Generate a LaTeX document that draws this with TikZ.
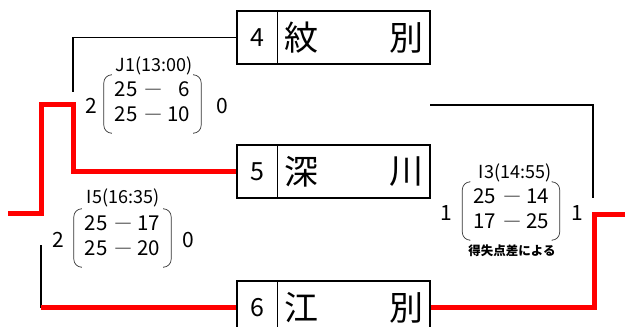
\documentclass[tikz,border=0pt]{standalone}
\usepackage{fontspec}
\setmainfont{Noto Sans CJK JP}
\usetikzlibrary{positioning}

\newcommand{\scoredash}{{\fontsize{18}{18}\selectfont ―}}

\tikzset{
	team/.style={draw, line width=1.5pt, minimum width=193pt, minimum height=53pt, inner sep=0pt},
	num/.style={inner sep=0pt, font=\fontsize{25}{25}\selectfont},
	kanji/.style={inner sep=0pt, font=\fontsize{34}{34}\selectfont},
	lose/.style={line width=1.6pt},
	win/.style={line width=5pt, red},
	sets/.style={inner sep=0pt, minimum width=97pt, minimum height=58pt, font=\fontsize{20.5}{25}\selectfont},
	pts/.style={inner sep=0pt, font=\fontsize{21}{21}\selectfont},
	game/.style={inner sep=0pt, font=\fontsize{18}{18}\selectfont},
	paren/.style={line width=0.7pt, black!80, rounded corners=8pt},
}

\begin{document}
\begin{tikzpicture}[x=1pt, y=-1pt]
	\useasboundingbox (0,0) rectangle (625,327);

	% team boxes
	\node [team] (mon) at (333.5, 37.5) {};
	\draw [line width=1.5pt] ([xshift=41pt]mon.north west) -- ([xshift=41pt]mon.south west);
	\node [num] at (257, 37.5) {4};
	\node [kanji] at (301, 37.5) {紋};
	\node [kanji] at (406, 37.5) {別};

	\node [team] (fuk) at (333.5, 171.5) {};
	\draw [line width=1.5pt] ([xshift=41pt]fuk.north west) -- ([xshift=41pt]fuk.south west);
	\node [num] at (257, 171.5) {5};
	\node [kanji] at (301, 171.5) {深};
	\node [kanji] at (406, 171.5) {川};

	\node [team] (ebe) at (333.5, 307.5) {};
	\draw [line width=1.5pt] ([xshift=41pt]ebe.north west) -- ([xshift=41pt]ebe.south west);
	\node [num] at (257, 307.5) {6};
	\node [kanji] at (301, 307.5) {江};
	\node [kanji] at (406, 307.5) {別};

	% bracket lines
	\coordinate (j1in) at (73, 92);
	\coordinate (i5in) at (41, 245);
	\coordinate (lout) at (8, 213);
	\coordinate (semi) at (430, 105);
	\coordinate (i3in) at (593, 198);
	\coordinate (i3win) at (594, 214);
	\coordinate (rout) at (625, 214);

	\draw [lose] (mon.west) -| (j1in);
	\draw [lose] (i5in) |- (ebe.west);
	\draw [lose] (semi) -| (i3in);
	\draw [win] (lout) -- (41, 213) |- (73, 104) |- (fuk.west);
	\draw [win] (i5in |- ebe.west) -- (ebe.west);
	\draw [win] (ebe.east) -| (i3win) -- (rout);

	% J1
	\node [game] (j1g) at (154, 66) {J1(13:00)};
	\node [sets] (j1) at (152.5, 104) {\begin{tabular}{@{}r@{\hspace{7pt}}c@{\hspace{5pt}}r@{}}25&\scoredash&6\\25&\scoredash&10\end{tabular}};
	\draw [paren] ([xshift=7pt]j1.north west) -- (j1.north west) -- (j1.south west) -- ([xshift=7pt]j1.south west);
	\draw [paren] ([xshift=-7pt]j1.north east) -- (j1.north east) -- (j1.south east) -- ([xshift=-7pt]j1.south east);
	\node [pts] at (91, 106) {2};
	\node [pts] at (222, 106) {0};

	% I5
	\node [game] (i5g) at (123, 198) {I5(16:35)};
	\node [sets] (i5) at (122.5, 238) {\begin{tabular}{@{}r@{\hspace{7pt}}c@{\hspace{5pt}}r@{}}25&\scoredash&17\\25&\scoredash&20\end{tabular}};
	\draw [paren] ([xshift=7pt]i5.north west) -- (i5.north west) -- (i5.south west) -- ([xshift=7pt]i5.south west);
	\draw [paren] ([xshift=-7pt]i5.north east) -- (i5.north east) -- (i5.south east) -- ([xshift=-7pt]i5.south east);
	\node [pts] at (58, 240) {2};
	\node [pts] at (188, 240) {0};

	% I3
	\node [game] (i3g) at (515, 173) {I3(14:55)};
	\node [sets] (i3) at (511, 211) {\begin{tabular}{@{}r@{\hspace{7pt}}c@{\hspace{5pt}}r@{}}25&\scoredash&14\\17&\scoredash&25\end{tabular}};
	\draw [paren] ([xshift=7pt]i3.north west) -- (i3.north west) -- (i3.south west) -- ([xshift=7pt]i3.south west);
	\draw [paren] ([xshift=-7pt]i3.north east) -- (i3.north east) -- (i3.south east) -- ([xshift=-7pt]i3.south east);
	\node [pts] at (446, 213) {1};
	\node [pts] at (577, 213) {1};
	\node [inner sep=0pt, font=\bfseries\fontsize{12.5}{12.5}\selectfont] at (512, 251) {得失点差による};

\end{tikzpicture}
\end{document}
